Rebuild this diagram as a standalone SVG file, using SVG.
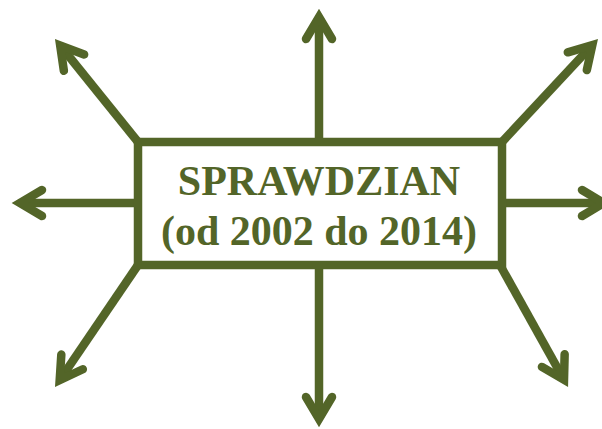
<svg xmlns="http://www.w3.org/2000/svg" width="602" height="429" viewBox="0 0 602 429">
<style>
.c{stroke:#536528;stroke-width:8.5;fill:none}
.t{font-family:"Liberation Serif","Times New Roman",serif;font-weight:bold;font-size:42px;fill:#536528;text-anchor:middle}
</style>
<defs>
<marker id="ah" markerUnits="userSpaceOnUse" orient="auto" overflow="visible" markerWidth="1" markerHeight="1" refX="0" refY="0">
<path d="M-22,-13 L0,0 L-22,13" fill="none" stroke="#536528" stroke-width="8.5" stroke-linecap="round" stroke-linejoin="miter"/>
</marker>
</defs>
<g id="connectors">
<line class="c" x1="319" y1="142" x2="319" y2="17" marker-end="url(#ah)"/>
<line class="c" x1="319" y1="265" x2="319" y2="419" marker-end="url(#ah)"/>
<line class="c" x1="134" y1="203" x2="20" y2="203" marker-end="url(#ah)"/>
<line class="c" x1="502" y1="203" x2="604" y2="203" marker-end="url(#ah)"/>
<line class="c" x1="138" y1="142" x2="60.2" y2="45.5" marker-end="url(#ah)"/>
<line class="c" x1="502" y1="142" x2="592.3" y2="45.1" marker-end="url(#ah)"/>
<line class="c" x1="138" y1="265" x2="59.7" y2="380.1" marker-end="url(#ah)"/>
<line class="c" x1="500" y1="265" x2="564" y2="379.8" marker-end="url(#ah)"/>
</g>
<g id="node-sprawdzian">
<rect class="c" x="138" y="142" width="364" height="123" fill="#ffffff" style="fill:#ffffff"/>
<text class="t" x="319" y="195">SPRAWDZIAN</text>
<text class="t" x="319" y="245">(od 2002 do 2014)</text>
</g>
</svg>
